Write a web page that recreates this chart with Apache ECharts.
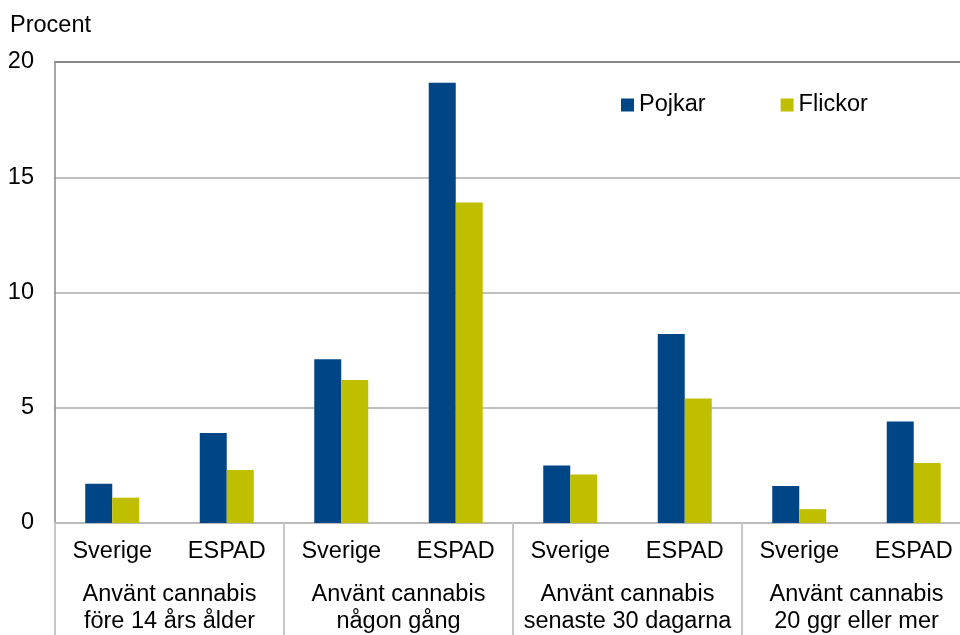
<!DOCTYPE html>
<html>
<head>
<meta charset="utf-8">
<script src="https://cdn.jsdelivr.net/npm/echarts@6/dist/echarts.min.js"></script>
<style>html,body{margin:0;padding:0;background:#fff}#c{width:960px;height:635px}</style>
</head>
<body>
<div id="c"></div>
<script>
const categories = ['Sverige','ESPAD','Sverige','ESPAD','Sverige','ESPAD','Sverige','ESPAD'];
const groups = ['Använt cannabis\nföre 14 års ålder','Använt cannabis\nnågon gång','Använt cannabis\nsenaste 30 dagarna','Använt cannabis\n20 ggr eller mer'];
const pojkar = [1.7, 3.9, 7.1, 19.1, 2.5, 8.2, 1.6, 4.4];
const flickor = [1.1, 2.3, 6.2, 13.9, 2.1, 5.4, 0.6, 2.6];
const seriesNames = ['Pojkar','Flickor'];
const yTicks = {min:0, max:20, interval:5};

const FONT = "'Liberation Sans', Arial, sans-serif";
const FS = 23.5;
const chart = echarts.init(document.getElementById('c'), null, {renderer:'canvas'});
chart.setOption({
  animation:false,
  backgroundColor:'#fff',
  textStyle:{fontFamily:FONT},
  title:{text:'Procent', left:10, top:14, padding:0,
    textStyle:{fontSize:FS, fontWeight:'normal', color:'#000', fontFamily:FONT}},
  legend:{data:seriesNames, left:616, top:88, icon:'rect', itemWidth:13, itemHeight:13, itemGap:75,
    textStyle:{fontSize:FS, color:'#000', fontFamily:FONT}},
  grid:{left:55, top:62, width:916, height:461, outerBoundsMode:'none', containLabel:false},
  yAxis:{type:'value', min:yTicks.min, max:yTicks.max, interval:yTicks.interval,
    axisLine:{show:true, lineStyle:{color:'#888', width:1.5}},
    axisTick:{show:false},
    axisLabel:{fontSize:FS, color:'#000', margin:21, fontFamily:FONT},
    splitLine:{lineStyle:{color:'#C0C0C0', width:2}}},
  xAxis:[
    {type:'category', data:categories, position:'bottom',
      axisLine:{lineStyle:{color:'#BBBBBB', width:2}},
      axisTick:{show:false},
      axisLabel:{interval:0, fontSize:FS, color:'#000', margin:17, lineHeight:24, fontFamily:FONT}},
    {type:'category', data:groups, position:'bottom',
      axisLine:{show:false},
      axisTick:{show:true, length:115, interval:0, lineStyle:{color:'#C8C8C8', width:2}},
      axisLabel:{interval:0, fontSize:FS, color:'#000', margin:58, lineHeight:27, fontFamily:FONT}},
    {type:'category', data:groups, position:'top',
      axisLine:{show:true, lineStyle:{color:'#888', width:2}},
      axisTick:{show:false}, axisLabel:{show:false}}
  ],
  series:[
    {name:seriesNames[0], type:'bar', xAxisIndex:0, data:pojkar, barWidth:27, barGap:0,
      itemStyle:{color:'#004687'}},
    {name:seriesNames[1], type:'bar', xAxisIndex:0, data:flickor, barWidth:27, barGap:0,
      itemStyle:{color:'#BFBF00'}}
  ]
});
</script>
</body>
</html>
